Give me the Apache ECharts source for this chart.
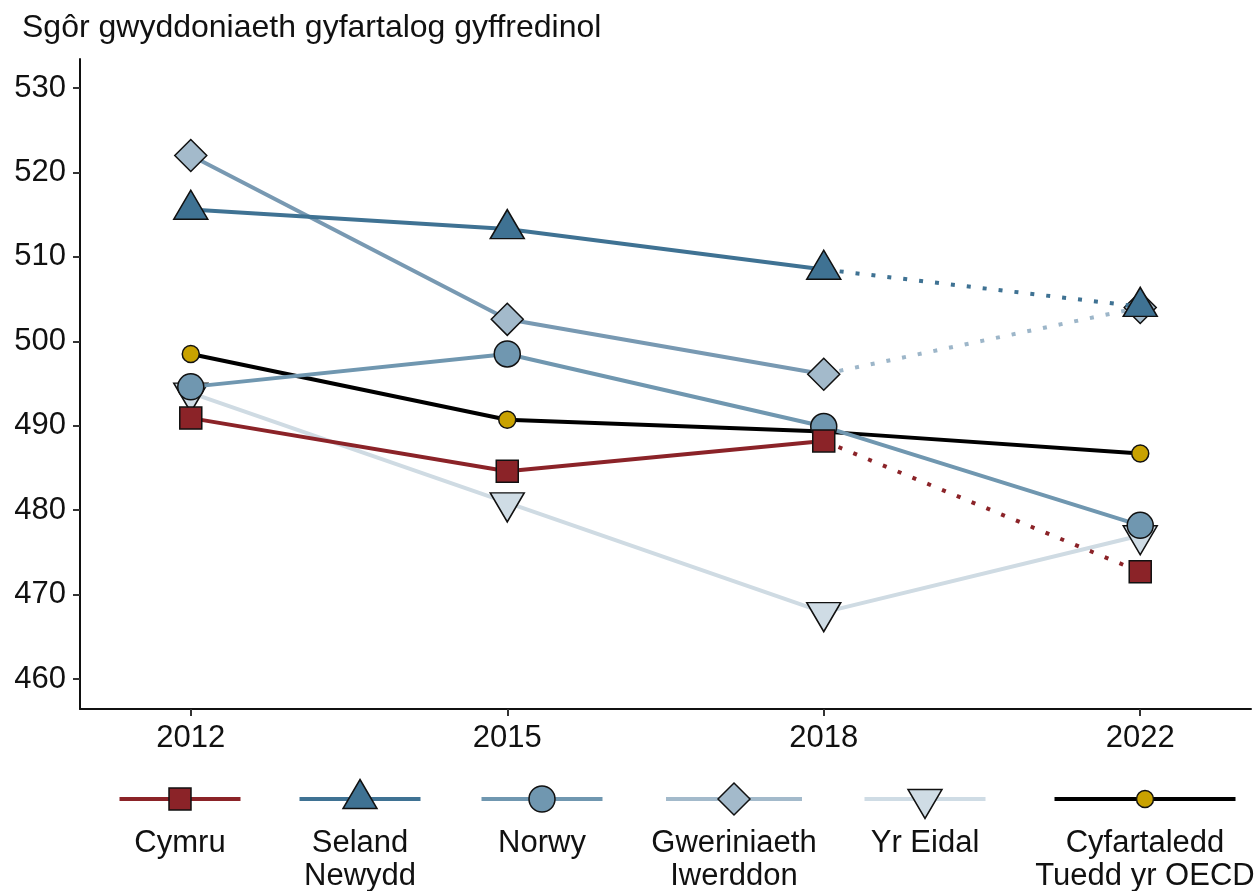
<!DOCTYPE html>
<html>
<head>
<meta charset="utf-8">
<script src="https://cdn.jsdelivr.net/npm/echarts@6/dist/echarts.min.js"></script>
<style>
html,body{margin:0;padding:0;background:#fff;}
#chart{width:1259px;height:891px;}
</style>
</head>
<body>
<div id="chart"></div>
<script>
// ---- data ----
const years = ['2012', '2015', '2018', '2022'];
const cymru    = [490.9, 484.6, 488.2, 472.7];
const seland   = [515.6, 513.3, 508.5, 504.1];
const norwy    = [494.6, 498.5, 489.9, 478.2];
const iwerddon = [522.0, 502.6, 496.1, 504.0];
const eidal    = [493.9, 480.9, 467.9, 477.0];
const oecd     = [498.5, 490.7, 489.3, 486.7];
const yTicks   = [460, 470, 480, 490, 500, 510, 520, 530];
const titleText = 'Sgôr gwyddoniaeth gyfartalog gyffredinol';
const labels = ['Cymru', 'Seland\nNewydd', 'Norwy', 'Gweriniaeth\nIwerddon', 'Yr Eidal', 'Cyfartaledd\nTuedd yr OECD'];

// ---- styles ----
const FONT = '"Liberation Sans", Arial, sans-serif';
const TRI_DOWN = 'path://M0,0L34,0L17,29Z';
const defs = [
  { key: 'oecd', data: oecd, line: '#000000', dot: null, fill: '#c9a200', symbol: 'circle', size: 17, offset: [0, 0], dotted: false },
  { key: 'eidal', data: eidal, line: '#cfdbe3', dot: null, fill: '#cfdce5', symbol: TRI_DOWN, size: [34, 29], offset: [0, 4.8], dotted: false },
  { key: 'iwerddon', data: iwerddon, line: '#7899b2', dot: '#9db6c9', fill: '#a3bacb', symbol: 'diamond', size: [32, 32], offset: [0, 0], dotted: true },
  { key: 'norwy', data: norwy, line: '#7097b0', dot: null, fill: '#7097b0', symbol: 'circle', size: 26, offset: [0, 0], dotted: false },
  { key: 'seland', data: seland, line: '#3f7293', dot: '#3f7293', fill: '#3f7293', symbol: 'triangle', size: [34, 29], offset: [0, -4.8], dotted: true },
  { key: 'cymru', data: cymru, line: '#8b2328', dot: '#8b2328', fill: '#8b2328', symbol: 'rect', size: [22, 22], offset: [0, 0], dotted: true }
];

const series = [];
defs.forEach((d, idx) => {
  const z = 3 + idx;
  const markerStyle = { color: d.fill, borderColor: '#111', borderWidth: 1.5 };
  const n = d.dotted ? 3 : 4;
  const solidData = d.data.slice(0, n).map((v, i) => [i, v]);
  if (d.dotted) {
    series.push({
      type: 'line', z: z, silent: true, animation: false,
      data: [{ value: [2, d.data[2]], symbol: 'none' }, { value: [3, d.data[3]] }],
      symbol: d.symbol, symbolSize: d.size, symbolOffset: d.offset,
      showAllSymbol: true,
      lineStyle: { color: d.dot, width: 4, type: [4, 12], cap: 'butt' },
      itemStyle: markerStyle
    });
  }
  series.push({
    type: 'line', z: z, silent: true, animation: false,
    data: solidData,
    symbol: d.symbol, symbolSize: d.size, symbolOffset: d.offset,
    showAllSymbol: true,
    lineStyle: { color: d.line, width: 4 },
    itemStyle: markerStyle
  });
});

// ---- legend via graphic ----
const legendItems = [
  { cx: 180, w: 121, line: '#8b2328', fill: '#8b2328', shape: 'square', s: 22 },
  { cx: 360, w: 121, line: '#3f7293', fill: '#3f7293', shape: 'tri', s: 34 },
  { cx: 542, w: 121, line: '#7097b0', fill: '#7097b0', shape: 'circle', s: 26 },
  { cx: 734, w: 136, line: '#a3bacb', fill: '#a3bacb', shape: 'diamond', s: 32 },
  { cx: 925, w: 121, line: '#cfdce5', fill: '#cfdce5', shape: 'tridown', s: 34 },
  { cx: 1145, w: 181, line: '#000000', fill: '#c9a200', shape: 'circle', s: 17 }
];
const LY = 799;
const graphics = [];
legendItems.forEach((it, i) => {
  graphics.push({ type: 'line', shape: { x1: it.cx - it.w / 2, y1: LY, x2: it.cx + it.w / 2, y2: LY },
    style: { stroke: it.line, lineWidth: 4 }, silent: true });
  const st = { fill: it.fill, stroke: '#111', lineWidth: 1.5 };
  let el;
  if (it.shape === 'square') el = { type: 'rect', shape: { x: it.cx - it.s / 2, y: LY - it.s / 2, width: it.s, height: it.s }, style: st };
  else if (it.shape === 'circle') el = { type: 'circle', shape: { cx: it.cx, cy: LY, r: it.s / 2 }, style: st };
  else if (it.shape === 'diamond') el = { type: 'polygon', shape: { points: [[it.cx, LY - 16], [it.cx + 16, LY], [it.cx, LY + 16], [it.cx - 16, LY]] }, style: st };
  else if (it.shape === 'tri') el = { type: 'polygon', shape: { points: [[it.cx, LY - 19.5], [it.cx + 17, LY + 9.5], [it.cx - 17, LY + 9.5]] }, style: st };
  else el = { type: 'polygon', shape: { points: [[it.cx - 17, LY - 9.5], [it.cx + 17, LY - 9.5], [it.cx, LY + 19.5]] }, style: st };
  el.silent = true;
  graphics.push(el);
  graphics.push({ type: 'text', x: it.cx, y: 827, silent: true,
    style: { text: labels[i], font: '31px ' + FONT, fill: '#111', align: 'center', verticalAlign: 'top', lineHeight: 33 } });
});

const chart = echarts.init(document.getElementById('chart'), null, { renderer: 'canvas' });
chart.setOption({
  backgroundColor: '#ffffff',
  animation: false,
  title: {
    text: titleText, left: 17, top: 7,
    textStyle: { fontFamily: FONT, fontSize: 32, fontWeight: 'normal', color: '#111' }
  },
  grid: { left: 80, right: 8, top: 59, bottom: 182 },
  xAxis: {
    type: 'value', min: -0.35, max: 3.35,
    splitLine: { show: false },
    axisLine: { show: true, onZero: false, lineStyle: { color: '#111', width: 2 } },
    axisTick: { show: true, length: 7, lineStyle: { color: '#333', width: 2 }, customValues: [0, 1, 2, 3] },
    axisLabel: { customValues: [0, 1, 2, 3], formatter: v => years[Math.round(v)], margin: 14,
      fontFamily: FONT, fontSize: 31, color: '#111' }
  },
  yAxis: {
    type: 'value', min: 456.45, max: 533.43,
    splitLine: { show: false },
    axisLine: { show: true, onZero: false, lineStyle: { color: '#111', width: 2 } },
    axisTick: { show: true, length: 7, lineStyle: { color: '#333', width: 2 }, customValues: yTicks },
    axisLabel: { customValues: yTicks, margin: 14, fontFamily: FONT, fontSize: 31, color: '#111' }
  },
  series: series,
  graphic: graphics
});
</script>
</body>
</html>
